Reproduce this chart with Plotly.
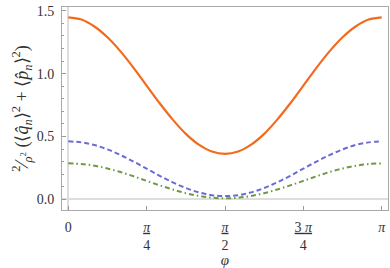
import numpy as np
import plotly.graph_objects as go

# phi sampled every pi/24 from 0 to pi
phi_steps = list(range(25))
orange_half = [1.448, 1.430, 1.375, 1.289, 1.177, 1.046, 0.905, 0.764, 0.634, 0.521, 0.435, 0.380, 0.362]
blue_half = [0.461, 0.453, 0.432, 0.397, 0.352, 0.300, 0.244, 0.187, 0.135, 0.090, 0.055, 0.033, 0.026]
green_half = [0.286, 0.281, 0.267, 0.245, 0.217, 0.183, 0.147, 0.111, 0.078, 0.049, 0.027, 0.013, 0.008]

orange_vals = orange_half + orange_half[-2::-1]
blue_vals = blue_half + blue_half[-2::-1]
green_vals = green_half + green_half[-2::-1]
phi = [k * np.pi / 24 for k in phi_steps]

x_tickvals = [0, np.pi / 4, np.pi / 2, 3 * np.pi / 4, np.pi]
x_ticktext = ["0", "<u><i>π</i></u><br>4", "<u><i>π</i></u><br>2", "<u>3 <i>π</i></u><br>4", "<i>π</i>"]
y_tickvals = [0.0, 0.5, 1.0, 1.5]
y_ticktext = ["0.0", "0.5", "1.0", "1.5"]

FONT = "Liberation Serif"

fig = go.Figure()
fig.add_trace(go.Scatter(x=phi, y=orange_vals, mode="lines", line=dict(color="#F26B1D", width=2.2, shape="spline"), showlegend=False))
fig.add_trace(go.Scatter(x=phi, y=blue_vals, mode="lines", line=dict(color="#6C6BD6", width=2, dash="5px,3px", shape="spline"), showlegend=False))
fig.add_trace(go.Scatter(x=phi, y=green_vals, mode="lines", line=dict(color="#6D9A3E", width=2, dash="5px,3px,1.5px,3px", shape="spline"), showlegend=False))

fig.update_layout(
    width=390, height=268,
    margin=dict(l=62, r=2, t=7, b=58, autoexpand=False),
    paper_bgcolor="white", plot_bgcolor="white",
    font=dict(family=FONT, size=14, color="#333"),
    xaxis=dict(
        range=[-0.02 * np.pi, 1.02 * np.pi],
        tickvals=x_tickvals, ticktext=x_ticktext,
        tickfont=dict(family=FONT, size=14),
        ticks="inside", ticklen=4, tickcolor="#999",
        showline=True, mirror=True, linecolor="#aaa", linewidth=1,
        showgrid=False, zeroline=True, zerolinecolor="#ddd", zerolinewidth=1.5,
        title=dict(text="<i>φ</i>", font=dict(family=FONT, size=15), standoff=2),
        ticklabelstandoff=4, ticklabeloverflow="allow", automargin=False,
    ),
    yaxis=dict(
        range=[-0.085, 1.53],
        tickvals=y_tickvals, ticktext=y_ticktext,
        tickfont=dict(family=FONT, size=14),
        ticks="inside", ticklen=4, tickcolor="#999",
        minor=dict(ticks="inside", dtick=0.1, ticklen=2, tickcolor="#999"),
        showline=True, mirror=True, linecolor="#aaa", linewidth=1,
        showgrid=False, zeroline=True, zerolinecolor="#ddd", zerolinewidth=1.5,
        title=dict(text="<sup>2</sup>⁄<sub><i>ρ</i><sup>2</sup></sub> (⟨<i>q̂</i><sub><i>n</i></sub>⟩<sup>2</sup> + ⟨<i>p̂</i><sub><i>n</i></sub>⟩<sup>2</sup>)", font=dict(family=FONT, size=18), standoff=3),
        ticklabelstandoff=4, automargin=False,
    ),
)

fig.write_html("out.html", config={"displayModeBar": False}, post_script="document.body.style.margin='0';")
